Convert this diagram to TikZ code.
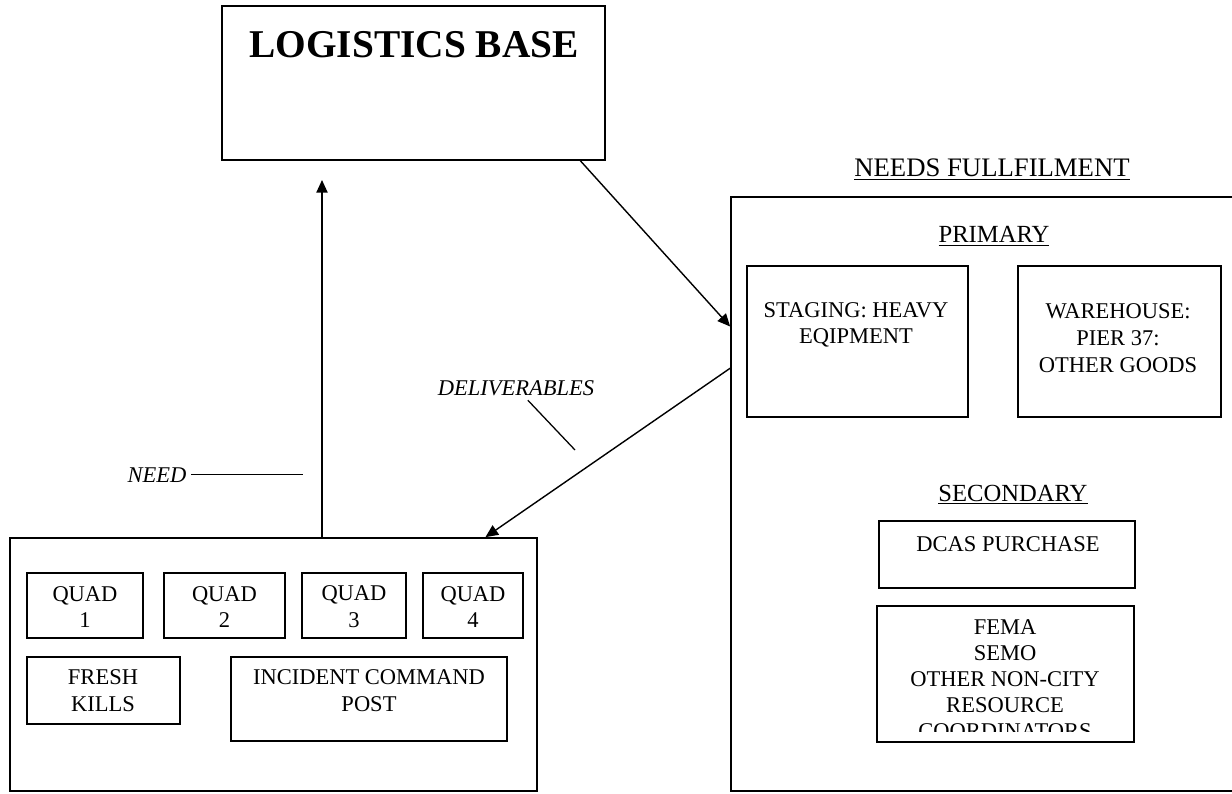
\documentclass[tikz,border=0pt]{standalone}
\usepackage{fontspec}
\setmainfont{Liberation Serif}
\usetikzlibrary{positioning}
\usetikzlibrary{fit}
\usetikzlibrary{arrows.meta}
\begin{document}
\begin{tikzpicture}[x=0.025cm,y=-0.025cm]
% définition des paramètres
\tikzstyle boitelog=[draw=black,line width=1.2pt,inner sep=0pt]
\tikzstyle texteboite=[align=center,font=\fontsize{16}{19}\selectfont,inner sep=0pt]
\tikzstyle titrelog=[font=\fontsize{17.5}{20}\selectfont,anchor=base]
\tikzstyle etiquettelog=[font=\fontsize{16}{19}\selectfont\itshape,anchor=base]
\tikzstyle flechelog=[line width=1pt,-{Triangle[length=9pt,width=8pt]}]
\tikzstyle traitlog=[line width=0.9pt]
\useasboundingbox (0,0) rectangle (1232,794);
% la base logistique
\node[boitelog,fit={(222,6) (605,160)}] (logbase) {};
\node[font=\fontsize{28}{32}\selectfont\bfseries,anchor=base] (titrebase) at (414,58) {LOGISTICS BASE};
% les besoins
\node[boitelog,fit={(731,197) (1245,791)}] (besoins) {};
\node[titrelog,font=\fontsize{19}{22}\selectfont] (titrebesoins) at (992,177) {\underline{NEEDS FULLFILMENT}};
\node[titrelog] (titreprim) at (994,243) {\underline{PRIMARY}};
\node[boitelog,fit={(747,266) (968,417)}] (staging) {};
\node[texteboite] (txtstaging) at (856,325) {STAGING: HEAVY\\EQIPMENT};
\node[boitelog,fit={(1018,266) (1221,417)}] (entrepot) {};
\node[texteboite] (txtentrepot) at (1118,338) {WAREHOUSE:\\PIER 37:\\OTHER GOODS};
\node[titrelog] (titresec) at (1013,501) {\underline{SECONDARY}};
\node[boitelog,fit={(879,521) (1135,588)}] (dcas) {};
\node[texteboite,anchor=base] (txtdcas) at (1008,551) {DCAS PURCHASE};
\node[boitelog,fit={(877,606) (1134,742)}] (fema) {};
\begin{scope}
\clip (877,606) rectangle (1134,731);
\node[texteboite,font=\fontsize{16}{18.5}\selectfont] (txtfema) at (1005,679) {FEMA\\SEMO\\OTHER NON-CITY\\RESOURCE\\COORDINATORS};
\end{scope}
% la zone du bas
\node[boitelog,fit={(10,538) (537,791)}] (zone) {};
\foreach \g/\d/\n in {27/143/1,164/285/2,302/406/3,423/523/4}
{
    \node[boitelog,fit={(\g,573) (\d,638)}] (quad\n) {};
    \node[texteboite] (txtquad\n) at ({(\g+\d)/2},607) {QUAD\\\n};
}
\node[boitelog,fit={(27,657) (180,724)}] (fresh) {};
\node[texteboite] (txtfresh) at (103,691) {FRESH\\KILLS};
\node[boitelog,fit={(231,657) (507,741)}] (icp) {};
\node[texteboite] (txticp) at (369,691) {INCIDENT COMMAND\\POST};
% les flèches
\coordinate (pointebase) at (322,180);
\draw[flechelog] (pointebase |- zone.north) -- (pointebase);
\draw[flechelog] (logbase.-25.1) -- (besoins.147.6);
\draw[flechelog] (besoins.154.1) -- (zone.31.2);
% les étiquettes
\node[etiquettelog] (need) at (157,482) {NEED};
\coordinate (needfin) at (303,471);
\draw[traitlog] (need.east) -- (need.east -| needfin);
\node[etiquettelog] (livrables) at (516,395) {DELIVERABLES};
\coordinate (livfin) at (575,450);
\draw[traitlog] (livfin) -- (livrables);
\end{tikzpicture}
\end{document}
